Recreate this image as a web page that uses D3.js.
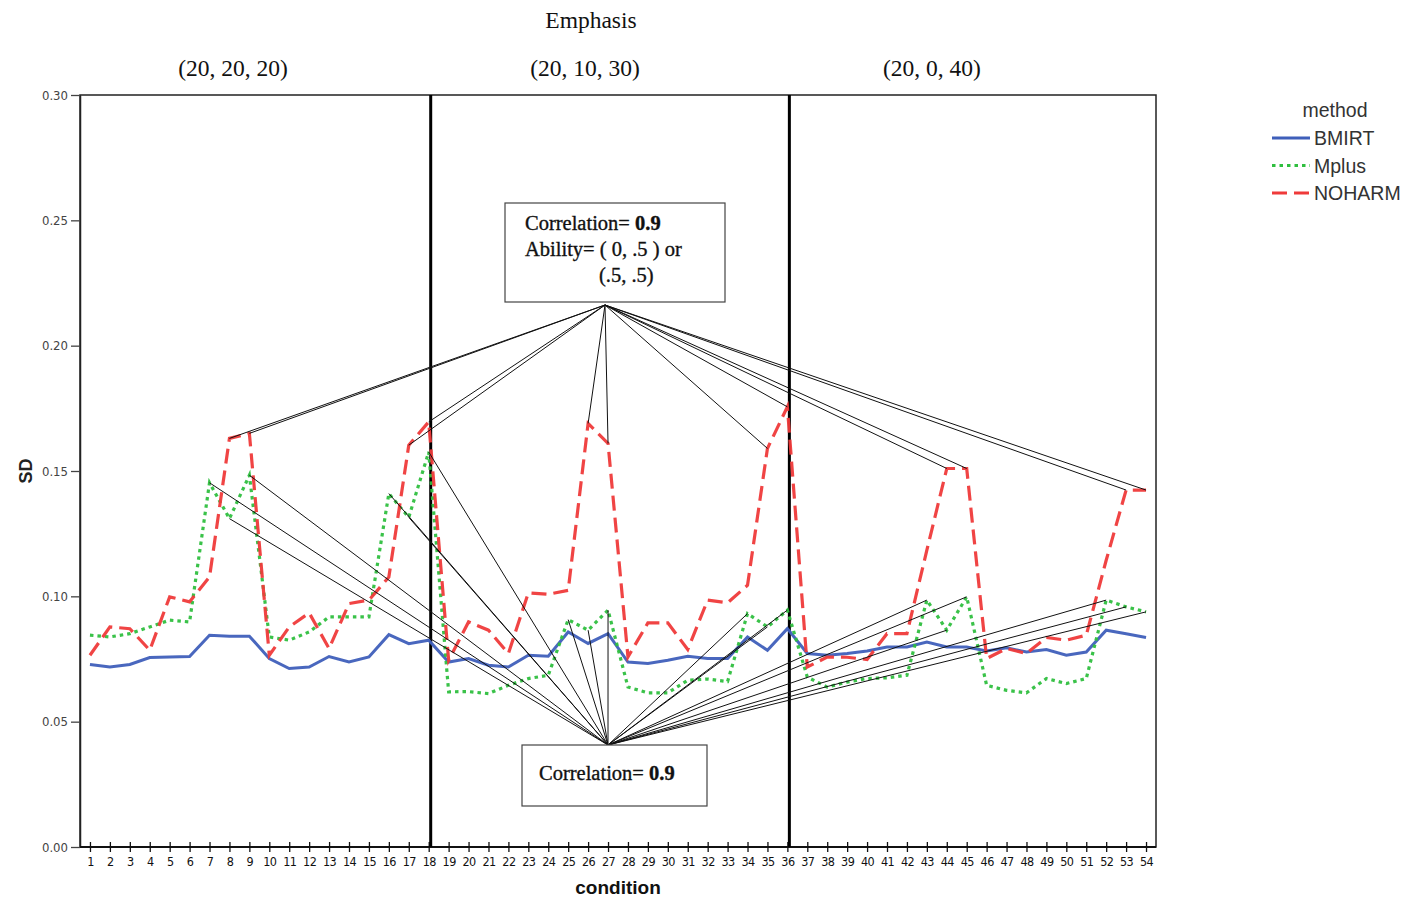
<!DOCTYPE html>
<html>
<head>
<meta charset="utf-8">
<script src="https://cdn.jsdelivr.net/npm/d3@7"></script>
<style>
  body { margin: 0; background: #fff; }
  svg { display: block; }
</style>
</head>
<body>
<svg id="chart" width="1408" height="899"></svg>
<script>
// Simulation conditions 1..54, grouped in three emphasis blocks of 18
const conditions = [1,2,3,4,5,6,7,8,9,10,11,12,13,14,15,16,17,18,19,20,21,22,23,24,25,26,27,28,29,30,31,32,33,34,35,36,37,38,39,40,41,42,43,44,45,46,47,48,49,50,51,52,53,54];

const bmirt = [0.0728,0.0718,0.0728,0.0756,0.0758,0.0760,0.0845,0.0841,0.0841,0.0752,0.0712,0.0718,0.0760,0.0738,0.0758,0.0847,0.0811,0.0825,
               0.0738,0.0752,0.0725,0.0718,0.0765,0.0761,0.0858,0.0812,0.0851,0.0738,0.0732,0.0745,0.0761,0.0752,0.0752,0.0838,0.0785,0.0871,
               0.0772,0.0765,0.0772,0.0782,0.0798,0.0798,0.0818,0.0798,0.0798,0.0782,0.0795,0.0778,0.0788,0.0765,0.0778,0.0865,0.0851,0.0836];

const mplus = [0.0845,0.0838,0.0851,0.0878,0.0905,0.0898,0.1453,0.1310,0.1483,0.0838,0.0825,0.0858,0.0918,0.0918,0.0918,0.1410,0.1315,0.1576,
               0.0619,0.0620,0.0612,0.0645,0.0672,0.0685,0.0907,0.0865,0.0945,0.0638,0.0615,0.0615,0.0665,0.0670,0.0660,0.0931,0.0878,0.0945,
               0.0678,0.0638,0.0658,0.0672,0.0675,0.0685,0.0985,0.0865,0.0998,0.0645,0.0625,0.0615,0.0672,0.0652,0.0672,0.0985,0.0958,0.0938];

const noharm = [0.0765,0.0878,0.0871,0.0785,0.0998,0.0978,0.1077,0.1630,0.1650,0.0765,0.0878,0.0934,0.0792,0.0971,0.0985,0.1077,0.1603,0.1696,
                0.0745,0.0898,0.0865,0.0772,0.1014,0.1008,0.1024,0.1690,0.1610,0.0758,0.0894,0.0894,0.0788,0.0985,0.0974,0.1044,0.1590,0.1756,
                0.0718,0.0758,0.0757,0.0748,0.0851,0.0851,0.1184,0.1510,0.1510,0.0752,0.0792,0.0772,0.0836,0.0825,0.0845,0.1144,0.1424,0.1424];

const methods = ["BMIRT", "Mplus", "NOHARM"];
const yTicks = [0.00, 0.05, 0.10, 0.15, 0.20, 0.25, 0.30];
const blockLabels = ["(20, 20, 20)", "(20, 10, 30)", "(20, 0, 40)"];
const blockBounds = [18, 36];

// Conditions highlighted by the two callouts
const highNoharm = [8, 9, 17, 18, 26, 27, 35, 36, 44, 45, 53, 54];
const highMplus = [7, 8, 9, 16, 17, 18, 25, 26, 27, 34, 35, 36, 43, 44, 45, 52, 53, 54];

const series = [
  { name: "BMIRT", values: bmirt, color: "#3f5fba", dash: null, width: 3 },
  { name: "Mplus", values: mplus, color: "#2fbf3f", dash: "3.5,4", width: 3.2 },
  { name: "NOHARM", values: noharm, color: "#ef3a3a", dash: "15,7", width: 3.2 }
];

const svg = d3.select("#chart");
const L = 80, R = 1156, T = 95, B = 847;

const x = d3.scalePoint().domain(conditions).range([L, R]).padding(0.5);
const y = d3.scaleLinear().domain([0, 0.30]).range([B, T]);

const serif = "'Liberation Serif', 'Times New Roman', serif";
const narrow = "'DejaVu Sans Condensed', 'Liberation Sans Narrow', sans-serif";
const sans = "'Liberation Sans', Arial, sans-serif";

// Titles
svg.append("text").attr("x", 591).attr("y", 28).attr("text-anchor", "middle")
  .attr("font-family", serif).attr("font-size", 23.5).attr("fill", "#111").text("Emphasis");

const blockCenters = [233, 585, 932];
blockLabels.forEach((t, i) => {
  svg.append("text").attr("x", blockCenters[i]).attr("y", 76).attr("text-anchor", "middle")
    .attr("font-family", serif).attr("font-size", 23.5).attr("fill", "#111").text(t);
});

// Frame
svg.append("rect").attr("x", L).attr("y", T).attr("width", R - L).attr("height", B - T)
  .attr("fill", "none").attr("stroke", "#222").attr("stroke-width", 1.5);

// Y axis
const yAxis = svg.append("g").attr("transform", `translate(${L},0)`)
  .call(d3.axisLeft(y).tickValues(yTicks).tickFormat(d3.format(".2f")).tickSize(9).tickSizeOuter(0));
yAxis.select(".domain").attr("stroke", "#222").attr("stroke-width", 1.5);
yAxis.selectAll(".tick line").attr("stroke", "#444").attr("stroke-width", 1.3);
yAxis.selectAll(".tick text").attr("font-family", narrow).attr("font-size", 13).attr("fill", "#444").attr("x", -12);

svg.append("text").attr("transform", `translate(32,${y(0.15)}) rotate(-90)`).attr("text-anchor", "middle")
  .attr("font-family", sans).attr("font-weight", "bold").attr("font-size", 18).attr("fill", "#222").text("SD");

// X axis with ticks crossing the baseline
const xAxis = svg.append("g").attr("transform", `translate(0,${B})`)
  .call(d3.axisBottom(x).tickSize(5).tickSizeOuter(0));
xAxis.select(".domain").attr("stroke", "#111").attr("stroke-width", 2).attr("d", `M${L},0H${R}`);
xAxis.selectAll(".tick line").attr("y1", -5).attr("y2", 5).attr("stroke", "#111").attr("stroke-width", 1.3);
xAxis.selectAll(".tick text").attr("y", 10).attr("font-family", narrow).attr("font-size", 12.5)
  .attr("letter-spacing", -0.6).attr("fill", "#111");

svg.append("text").attr("x", 618).attr("y", 894).attr("text-anchor", "middle")
  .attr("font-family", sans).attr("font-weight", "bold").attr("font-size", 19).attr("fill", "#111").text("condition");

// Block separators
blockBounds.forEach(c => {
  svg.append("line").attr("x1", x(c) + 2).attr("x2", x(c) + 2).attr("y1", T).attr("y2", B)
    .attr("stroke", "#000").attr("stroke-width", 3);
});

// Series lines
const line = d3.line().x((d, i) => x(conditions[i])).y(d => y(d));
series.forEach(s => {
  svg.append("path").datum(s.values).attr("d", line)
    .attr("fill", "none").attr("stroke", s.color).attr("stroke-width", s.width)
    .attr("stroke-dasharray", s.dash).attr("stroke-linejoin", "miter").attr("opacity", 0.95);
});

// Callout connectors
const topApex = [605, 305], botApex = [608, 745];
const conn = svg.append("g").attr("stroke", "#111").attr("stroke-width", 1).attr("fill", "none");
highNoharm.forEach(c => {
  conn.append("line").attr("x1", topApex[0]).attr("y1", topApex[1])
    .attr("x2", x(c)).attr("y2", y(noharm[c - 1]));
});
highMplus.forEach(c => {
  conn.append("line").attr("x1", botApex[0]).attr("y1", botApex[1])
    .attr("x2", x(c)).attr("y2", y(mplus[c - 1]));
});

// Callout boxes
svg.append("rect").attr("x", 505).attr("y", 203).attr("width", 220).attr("height", 99)
  .attr("fill", "#fff").attr("stroke", "#444").attr("stroke-width", 1.2);
const t1 = svg.append("text").attr("font-family", serif).attr("font-size", 20.5).attr("fill", "#111")
  .attr("stroke", "#111").attr("stroke-width", 0.35);
t1.append("tspan").attr("x", 525).attr("y", 230).text("Correlation= ").append("tspan").attr("font-weight", "bold").text("0.9");
t1.append("tspan").attr("x", 525).attr("y", 256).text("Ability= ( 0, .5 ) or");
t1.append("tspan").attr("x", 599).attr("y", 282).text("(.5, .5)");

svg.append("rect").attr("x", 522).attr("y", 745).attr("width", 185).attr("height", 61)
  .attr("fill", "#fff").attr("stroke", "#444").attr("stroke-width", 1.2);
const t2 = svg.append("text").attr("font-family", serif).attr("font-size", 20.5).attr("fill", "#111")
  .attr("stroke", "#111").attr("stroke-width", 0.35);
t2.append("tspan").attr("x", 539).attr("y", 780).text("Correlation= ").append("tspan").attr("font-weight", "bold").text("0.9");

// Legend
const lg = svg.append("g");
lg.append("text").attr("x", 1335).attr("y", 117).attr("text-anchor", "middle")
  .attr("font-family", sans).attr("font-size", 19.5).attr("fill", "#333").text("method");
series.forEach((s, i) => {
  const yy = 138 + i * 27.5;
  lg.append("line").attr("x1", 1272).attr("x2", 1310).attr("y1", yy).attr("y2", yy)
    .attr("stroke", s.color).attr("stroke-width", s.width).attr("stroke-dasharray", s.dash);
  lg.append("text").attr("x", 1314).attr("y", yy + 7).attr("font-family", sans).attr("font-size", 19.5)
    .attr("fill", "#333").text(methods[i]);
});
</script>
</body>
</html>
